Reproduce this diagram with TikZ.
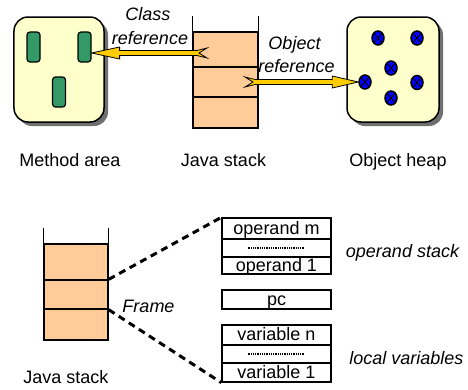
\documentclass[tikz,border=0pt]{standalone}
\usepackage{fontspec}
\setmainfont{Liberation Sans}
\usetikzlibrary{shapes.geometric,calc}
\definecolor{boxyellow}{HTML}{FFFFCC}
\definecolor{shadowgray}{HTML}{707070}
\definecolor{barGreen}{HTML}{339966}
\definecolor{stackfill}{HTML}{FFCC99}
\definecolor{arrowyellow}{HTML}{FFCC00}
\definecolor{dotblue}{HTML}{0000FF}
\begin{document}
\begin{tikzpicture}[x=1bp,y=-1bp,
  lbl/.style={font=\fontsize{18bp}{21bp}\selectfont, inner sep=0pt, anchor=base},
  ilbl/.style={font=\fontsize{18bp}{21bp}\selectfont\itshape, inner sep=0pt, anchor=base},
  area/.style={draw, line width=1.5bp, fill=boxyellow, rounded corners=14bp, minimum height=105bp, inner sep=0pt},
  areashadow/.style={fill=shadowgray, rounded corners=14bp, minimum height=105bp, inner sep=0pt},
  greenbar/.style={draw, line width=1.2bp, fill=barGreen, rounded corners=3bp, minimum width=13bp, minimum height=30bp, inner sep=0pt},
  objdot/.style={ellipse, draw, line width=1.5bp, fill=dotblue, minimum width=12bp, minimum height=14bp, inner sep=0pt,
    path picture={\draw[line width=0.9bp] (path picture bounding box.north west) -- (path picture bounding box.south east)
      (path picture bounding box.north east) -- (path picture bounding box.south west);}},
  stackrow/.style={draw, line width=1.3bp, fill=stackfill, inner sep=0pt},
  cell/.style={draw, line width=1.3bp, minimum width=109bp, inner sep=0pt, font=\fontsize{18bp}{21bp}\selectfont, text height=11bp, text depth=0pt},
  wall/.style={line width=1.3bp},
  frameline/.style={line width=3bp, dash pattern=on 7bp off 5bp},
  dotline/.style={line width=2bp, dash pattern=on 1bp off 0.8bp},
  refarrow/.style={draw=black, line width=0.8bp, fill=arrowyellow, line join=miter}
]
\useasboundingbox (0,0) rectangle (468,389);

% method area
\node[areashadow, minimum width=90bp] (maS) at (63,73.5) {};
\node[area, minimum width=90bp] (ma) at (59,69.5) {};
\node[greenbar] (g1) at (33.5,47) {};
\node[greenbar] (g2) at (84.5,47) {};
\node[greenbar] (g3) at (59,92) {};

% object heap
\node[areashadow, minimum width=92bp] (ohS) at (397,73.5) {};
\node[area, minimum width=92bp] (oh) at (393,69.5) {};
\node[objdot] (d1) at (378,38) {};
\node[objdot] (d2) at (417,38) {};
\node[objdot] (d3) at (391,68) {};
\node[objdot] (d4) at (365,82) {};
\node[objdot] (d5) at (417,82.5) {};
\node[objdot] (d6) at (391,98) {};

% top java stack
\node[stackrow, minimum width=65bp, minimum height=35bp] (s1) at (225.5,49.5) {};
\node[stackrow, minimum width=65bp, minimum height=30bp] (s2) at (225.5,82) {};
\node[stackrow, minimum width=65bp, minimum height=31bp] (s3) at (225.5,112.5) {};
\draw[wall] (s1.north west) -- ++(0,-15);
\draw[wall] (s1.north east) -- ++(0,-15);

% arrows
\coordinate (ctail) at (207,53);
\coordinate (ctip) at (g2.east |- ctail);
\filldraw[refarrow] (ctip) -- ($(ctip)+(28,-6)$) -- ($(ctip)+(28,-2.5)$) -- ($(ctail)+(-10,-2.5)$)
  -- ($(ctail)+(0,-5)$) -- ($(ctail)+(-8,0)$) -- ($(ctail)+(0,5)$) -- ($(ctail)+(-10,2.5)$)
  -- ($(ctip)+(28,2.5)$) -- ($(ctip)+(28,6)$) -- cycle;
\coordinate (otail) at (245,82);
\coordinate (otip) at (d4.west);
\filldraw[refarrow] (otip) -- ($(otip)+(-26,-6)$) -- ($(otip)+(-26,-2.5)$) -- ($(otail)+(10,-2.5)$)
  -- ($(otail)+(0,-5)$) -- ($(otail)+(8,0)$) -- ($(otail)+(0,5)$) -- ($(otail)+(10,2.5)$)
  -- ($(otip)+(-26,2.5)$) -- ($(otip)+(-26,6)$) -- cycle;

% top labels
\node[ilbl] (lclass) at (148,20) {Class};
\node[ilbl] (lcref) at (150,44) {reference};
\node[ilbl] (lobj) at (294.5,49) {Object};
\node[ilbl] (loref) at (296.5,72) {reference};
\node[lbl] (lma) at (70,166) {Method area};
\node[lbl] (ljs) at (223.5,166) {Java stack};
\node[lbl] (loh) at (398,166) {Object heap};

% bottom java stack
\node[stackrow, minimum width=64bp, minimum height=36bp] (b1) at (76,262) {};
\node[stackrow, minimum width=64bp, minimum height=29bp] (b2) at (76,294.5) {};
\node[stackrow, minimum width=64bp, minimum height=31bp] (b3) at (76,324.5) {};
\draw[wall] (b1.north west) -- ++(0,-15);
\draw[wall] (b1.north east) -- ++(0,-15);
\node[lbl] (ljs2) at (66,383) {Java stack};

% frame cells
\node[cell, minimum height=21bp] (c1) at (276.5,228.5) {operand m};
\node[cell, minimum height=18bp] (c2) at (276.5,248) {};
\node[cell, minimum height=17bp] (c3) at (276.5,265.5) {operand 1};
\draw[dotline] ([xshift=-29bp]c2.center) -- ([xshift=27bp]c2.center);
\node[cell, minimum height=19bp] (pc) at (276.5,299.5) {pc};
\node[cell, minimum height=20bp] (v1) at (276.5,335) {variable n};
\node[cell, minimum height=18bp] (v2) at (276.5,354) {};
\node[cell, minimum height=19bp] (v3) at (276.5,372.5) {variable 1};
\draw[dotline] ([xshift=-29bp]v2.center) -- ([xshift=27bp]v2.center);

\draw[frameline] (b2.north east) -- (c1.north west);
\draw[frameline] (b2.south east) -- (v3.south west);

\node[ilbl] (lframe) at (148.5,312) {Frame};
\node[ilbl] (lops) at (402.5,257) {operand stack};
\node[ilbl] (llv) at (406.5,364) {local variables};
\end{tikzpicture}
\end{document}
